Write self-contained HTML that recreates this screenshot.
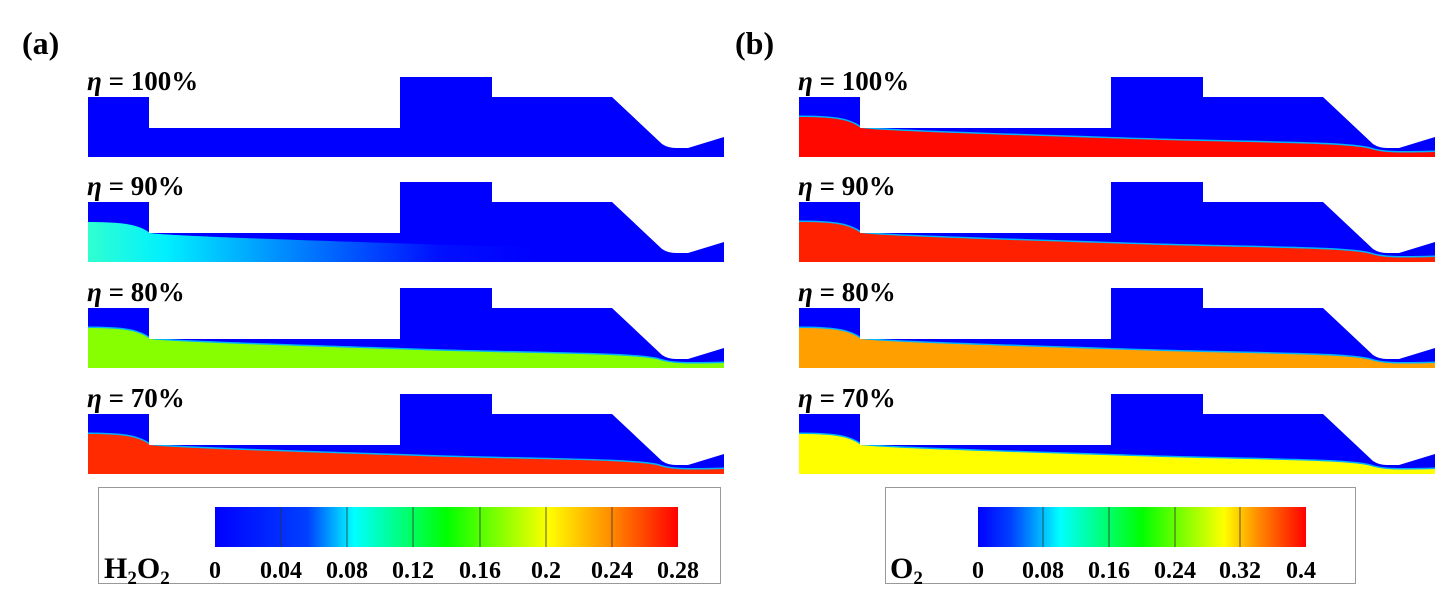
<!DOCTYPE html>
<html><head><meta charset="utf-8"><style>
html,body{margin:0;padding:0;background:#fff;width:1447px;height:592px;overflow:hidden}
text{font-family:"Liberation Serif",serif;font-weight:bold}
</style></head><body>
<svg id="s" width="1447" height="592" xmlns="http://www.w3.org/2000/svg">
<defs>
<linearGradient id="g90" x1="0" x2="1" y1="0" y2="0">
<stop offset="0" stop-color="#30ffd0"/><stop offset="0.12" stop-color="#00f0ff"/><stop offset="0.3" stop-color="#0090ff"/><stop offset="0.55" stop-color="#0010ff" stop-opacity="1"/><stop offset="0.7" stop-color="#0000ff"/><stop offset="1" stop-color="#0000ff"/></linearGradient>
<linearGradient id="cbA" x1="0" x2="1"><stop offset="0" stop-color="#0000ff"/><stop offset="0.2" stop-color="#0040ff"/><stop offset="0.3" stop-color="#00ffff"/><stop offset="0.5" stop-color="#00ff00"/><stop offset="0.72" stop-color="#ffff00"/><stop offset="0.85" stop-color="#ff9000"/><stop offset="1" stop-color="#ff0000"/></linearGradient>
<linearGradient id="cbB" x1="0" x2="1"><stop offset="0" stop-color="#0000ff"/><stop offset="0.1" stop-color="#0040ff"/><stop offset="0.25" stop-color="#00ffff"/><stop offset="0.5" stop-color="#00ff00"/><stop offset="0.75" stop-color="#ffff00"/><stop offset="0.85" stop-color="#ff9000"/><stop offset="1" stop-color="#ff0000"/></linearGradient>
</defs>
<text x="22" y="54" font-size="32">(a)</text>
<text x="735" y="54" font-size="32">(b)</text>
<g id="rows"></g>
<rect x="98.5" y="487.5" width="622" height="96" fill="#fff" stroke="#999" stroke-width="1"/>
<rect x="215" y="507" width="463" height="40" fill="url(#cbA)"/>
<g stroke="#333" stroke-width="0.8">
<line x1="281" y1="507" x2="281" y2="547"/><line x1="347" y1="507" x2="347" y2="547"/><line x1="413" y1="507" x2="413" y2="547"/><line x1="480" y1="507" x2="480" y2="547"/><line x1="546" y1="507" x2="546" y2="547"/><line x1="612" y1="507" x2="612" y2="547"/></g>
<text x="104" y="578" font-size="30">H<tspan font-size="19" dy="6">2</tspan><tspan dy="-6">O</tspan><tspan font-size="19" dy="6">2</tspan></text>
<g font-size="24" text-anchor="middle"><text x="215" y="578">0</text><text x="281" y="578">0.04</text><text x="347" y="578">0.08</text><text x="413" y="578">0.12</text><text x="480" y="578">0.16</text><text x="546" y="578">0.2</text><text x="612" y="578">0.24</text><text x="678" y="578">0.28</text></g>
<rect x="885.5" y="487.5" width="470" height="96" fill="#fff" stroke="#999" stroke-width="1"/>
<rect x="978" y="507" width="328" height="40" fill="url(#cbB)"/>
<g stroke="#333" stroke-width="0.8">
<line x1="1043" y1="507" x2="1043" y2="547"/><line x1="1109" y1="507" x2="1109" y2="547"/><line x1="1175" y1="507" x2="1175" y2="547"/><line x1="1240" y1="507" x2="1240" y2="547"/></g>
<text x="890" y="578" font-size="30">O<tspan font-size="19" dy="6">2</tspan></text>
<g font-size="24" text-anchor="middle"><text x="978" y="578">0</text><text x="1043" y="578">0.08</text><text x="1109" y="578">0.16</text><text x="1175" y="578">0.24</text><text x="1240" y="578">0.32</text><text x="1301" y="578">0.4</text></g>
</svg>
<script>
var NS="http://www.w3.org/2000/svg",g=document.getElementById("rows");
var offs=[0,105,211,317],labs=["100","90","80","70"];
var fa=[null,"url(#g90)","#88ff00","#ff2a00"],fb=["#ff0800","#ff2000","#ffa000","#ffff00"];
function shape(dx,dy){var b=157+dy,X=function(x){return x+dx};
return "M"+X(88)+" "+(97+dy)+"H"+X(149)+"V"+(128+dy)+"H"+X(400)+"V"+(77+dy)+"H"+X(492)+"V"+(97+dy)+"H"+X(612)+"L"+X(662)+" "+(144+dy)+"Q"+X(668)+" "+(148+dy)+" "+X(676)+" "+(148+dy)+"H"+X(688)+"L"+X(724)+" "+(137+dy)+"V"+b+"H"+X(88)+"Z";}
function layer(dx,dy,ext){var b=157+dy,X=function(x){return x+dx};
return "M"+X(88)+" "+(b-40)+"C"+X(130)+" "+(b-40)+" "+X(140)+" "+(b-36)+" "+X(150)+" "+(b-29)+"C"+X(170)+" "+(b-26)+" "+X(300)+" "+(b-22)+" "+X(450)+" "+(b-17)+"C"+X(560)+" "+(b-14)+" "+X(640)+" "+(b-14)+" "+X(660)+" "+(b-8)+"C"+X(672)+" "+(b-4)+" "+X(690)+" "+(b-4)+" "+X(724)+" "+(b-(ext||5))+"V"+b+"H"+X(88)+"Z";}
function el(t,a){var e=document.createElementNS(NS,t);for(var k in a)e.setAttribute(k,a[k]);g.appendChild(e);return e}
for(var i=0;i<4;i++){var dy=offs[i];
 [[0,fa[i]],[711,fb[i]]].forEach(function(p){var dx=p[0];
  el("path",{d:shape(dx,dy),fill:"#0000ff"});
  if(p[1]){var cid="c"+i+"_"+dx;var cp=el("clipPath",{id:cid});var pp=document.createElementNS(NS,"path");pp.setAttribute("d",shape(dx,dy));cp.appendChild(pp);
   el("path",{d:layer(dx,dy),fill:"none",stroke:"#00e0ff","stroke-width":3,"clip-path":"url(#"+cid+")",opacity:p[1]=="url(#g90)"?0:0.8});
   el("path",{d:layer(dx,dy),fill:p[1],"clip-path":"url(#"+cid+")"});}
  var t=el("text",{x:87+dx,y:90+dy,"font-size":"27"});
  var ts=document.createElementNS(NS,"tspan");ts.setAttribute("font-style","italic");ts.textContent="\u03B7";t.appendChild(ts);
  t.appendChild(document.createTextNode(" = "+labs[i]+"%"));
 });}
</script>
</body></html>
